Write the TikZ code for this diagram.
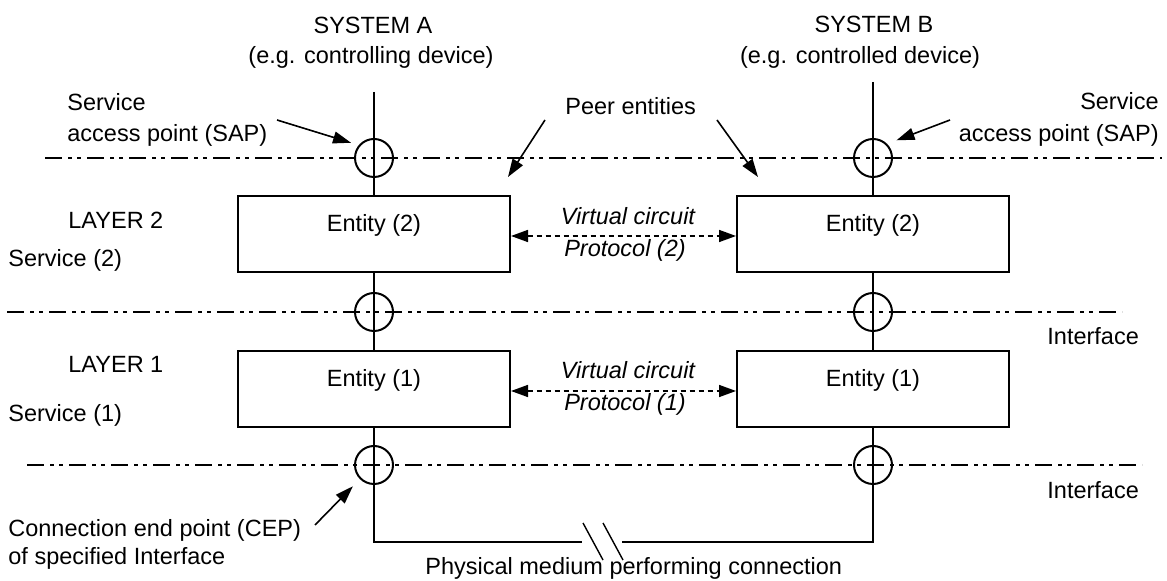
\documentclass[tikz,border=0pt]{standalone}
\usepackage{fontspec}
\setmainfont{Liberation Sans}
\usepackage{tikz}
\usetikzlibrary{arrows.meta}

\begin{document}
\begin{tikzpicture}[x=0.5pt,y=-0.5pt,
    font=\fontsize{11.75}{14}\selectfont,
    every node/.style={inner sep=0pt},
    wire/.style={line width=1pt},
    layerline/.style={line width=1pt,dash pattern=on 8.5pt off 3pt on 2pt off 2.5pt on 2pt off 3pt},
    entitybox/.style={draw,line width=1pt,minimum width=136pt,minimum height=38pt,text height=9pt,text depth=11pt},
    point/.style={draw,circle,line width=1pt,minimum size=19pt},
    pointer/.style={line width=0.8pt,-{Triangle[length=9pt,width=6pt]}},
    virtual/.style={line width=0.8pt,dash pattern=on 2.5pt off 2pt,{Triangle[length=8.5pt,width=6pt]}-{Triangle[length=8.5pt,width=6pt]}},
    lbl/.style={anchor=base},
    lbll/.style={anchor=base west},
    lblr/.style={anchor=base east},
    vlbl/.style={anchor=base,font=\fontsize{11.75}{14}\selectfont\itshape}]
  \useasboundingbox (0,0) rectangle (1167,581);

  \coordinate (sapL) at (45,158);  \coordinate (sapR) at (1162,158);
  \coordinate (ifL) at (7,312);    \coordinate (ifR) at (1122,312);
  \coordinate (cepL) at (27,465);  \coordinate (cepR) at (1142,465);
  \draw[layerline] (sapL) -- (sapR);
  \draw[layerline] (ifL) -- (ifR);
  \draw[layerline] (cepL) -- (cepR);

  \node[entitybox] (a2) at (374,234) {Entity (2)};
  \node[entitybox] (b2) at (873,234) {Entity (2)};
  \node[entitybox] (a1) at (374,389) {Entity (1)};
  \node[entitybox] (b1) at (873,389) {Entity (1)};

  \coordinate (atop) at (374,92);  \coordinate (btop) at (873,82);
  \coordinate (abot) at (374,542); \coordinate (bbot) at (873,542);
  \coordinate (gapL) at (582,542); \coordinate (gapR) at (622,542);
  \draw[wire] (atop) -- (a2.north) (a2.south) -- (a1.north) (a1.south) -- (abot) -- (gapL);
  \draw[wire] (btop) -- (b2.north) (b2.south) -- (b1.north) (b1.south) -- (bbot) -- (gapR);
  \coordinate (brk1a) at (583,523); \coordinate (brk1b) at (603,560);
  \coordinate (brk2a) at (603,523); \coordinate (brk2b) at (623,560);
  \draw[line width=0.7pt] (brk1a) -- (brk1b) (brk2a) -- (brk2b);

  \node[point] (sapA) at (374,158) {};
  \node[point] (sapB) at (873,158) {};
  \node[point] (ifA) at (374,312) {};
  \node[point] (ifB) at (873,312) {};
  \node[point] (cepA) at (374,465) {};
  \node[point] (cepB) at (873,465) {};

  \draw[virtual] ([yshift=-1pt]a2.east) -- ([yshift=-1pt]b2.west);
  \draw[virtual] ([yshift=-1pt]a1.east) -- ([yshift=-1pt]b1.west);
  \node[vlbl] (vc2) at (628,225) {Virtual circuit};
  \node[vlbl] (pr2) at (625,257) {Protocol (2)};
  \node[vlbl] (vc1) at (628,379) {Virtual circuit};
  \node[vlbl] (pr1) at (625,411) {Protocol (1)};

  \node[lbl] (sysA) at (373,34) {SYSTEM A};
  \node[lbl] (sysAdev) at (371,64) {(e.g. controlling device)};
  \node[lbl] (sysB) at (874,33) {SYSTEM B};
  \node[lbl] (sysBdev) at (860,64) {(e.g. controlled device)};

  \node[lbll] (sapAt1) at (67,111) {Service};
  \node[lbll] (sapAt2) at (67,142) {access point (SAP)};
  \node[lblr] (sapBt1) at (1159,110) {Service};
  \node[lblr] (sapBt2) at (1159,142) {access point (SAP)};
  \node[lbll] (peer) at (565,115) {Peer entities};

  \node[lbll] (layer2) at (68,229) {LAYER 2};
  \node[lbll] (serv2) at (8,267) {Service (2)};
  \node[lbll] (layer1) at (68,373) {LAYER 1};
  \node[lbll] (serv1) at (8,422) {Service (1)};
  \node[lbll] (if1) at (1047,345) {Interface};
  \node[lbll] (if2) at (1047,499) {Interface};
  \node[lbll] (cept1) at (8,537) {Connection end point (CEP)};
  \node[lbll] (cept2) at (8,565) {of specified Interface};
  \node[lbll] (medium) at (425,575) {Physical medium performing connection};

  \coordinate (sapAtail) at (277,120);
  \coordinate (sapBtail) at (950,120);
  \coordinate (peerAtail) at (545,120); \coordinate (peerAtip) at (508,177);
  \coordinate (peerBtail) at (717,120); \coordinate (peerBtip) at (758,177);
  \coordinate (ceptail) at (315,525);
  \draw[pointer,shorten >=4pt] (sapAtail) -- (sapA.140);
  \draw[pointer,shorten >=5pt] (sapBtail) -- (sapB.45);
  \draw[pointer] (peerAtail) -- (peerAtip);
  \draw[pointer] (peerBtail) -- (peerBtip);
  \draw[pointer,shorten >=5pt] (ceptail) -- (cepA.225);
\end{tikzpicture}
\end{document}
